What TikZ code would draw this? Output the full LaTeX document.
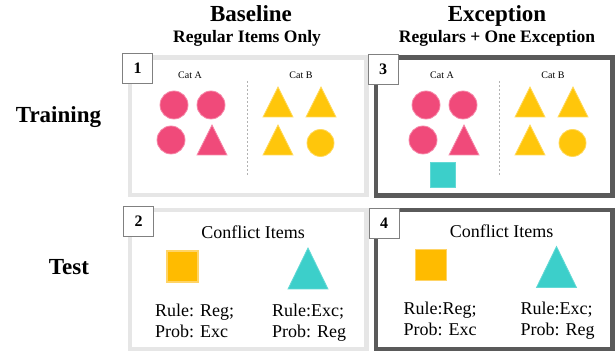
\documentclass[tikz,border=0pt]{standalone}
\usepackage{fontspec}
\setmainfont{Liberation Serif}

\definecolor{pinkA}{HTML}{F04A7A}
\definecolor{pinkE}{HTML}{F68AAA}
\definecolor{yelA}{HTML}{FFC60B}
\definecolor{yelE}{HTML}{FFD95C}
\definecolor{cyanA}{HTML}{3CCFCA}
\definecolor{orgA}{HTML}{FFBB00}
\definecolor{orgE}{HTML}{FFD466}
\definecolor{lightframe}{HTML}{E6E6E6}
\definecolor{darkframe}{HTML}{5A5A5A}

\begin{document}
\begin{tikzpicture}[x=1pt,y=-1pt,
  frameA/.style={draw=lightframe,line width=4.5pt},
  frameB/.style={draw=darkframe,line width=4.5pt},
  numbox/.style={draw=gray,fill=white,line width=0.8pt,minimum size=30pt,inner sep=0pt,font=\fontsize{16}{16}\selectfont\bfseries},
  pinkdot/.style={fill=pinkA,draw=pinkE,line width=0.8pt},
  yeldot/.style={fill=yelA,draw=yelE,line width=0.8pt},
  cyandot/.style={fill=cyanA,draw=cyanA!80!white,line width=0.8pt},
  orgdot/.style={fill=orgA,draw=orgE,line width=1.5pt},
  catlab/.style={anchor=base,inner sep=0pt,font=\fontsize{10}{12}\selectfont},
  itemlab/.style={anchor=base west,inner sep=0pt,font=\fontsize{18}{21}\selectfont},
  head/.style={anchor=base,inner sep=0pt,font=\fontsize{23}{25}\selectfont\bfseries},
  subhead/.style={anchor=base,inner sep=0pt,font=\fontsize{17.5}{20}\selectfont\bfseries},
  rowlab/.style={anchor=base,inner sep=0pt,font=\fontsize{23}{25}\selectfont\bfseries}]
\useasboundingbox (0,0) rectangle (616,352);

% column heads and row names
\node[head] (basehead) at (251,22) {Baseline};
\node[subhead] (basesub) at (247,43) {Regular Items Only};
\node[head] (exchead) at (497,22) {Exception};
\node[subhead] (excsub) at (497,43) {Regulars + One Exception};
\node[rowlab] (train) at (58.5,123) {Training};
\node[rowlab] (test) at (69,275) {Test};

% frames
\draw[frameA] (130,57.5) rectangle (366.5,195);
\draw[frameB] (376,57.5) rectangle (612.5,195.5);
\draw[frameA] (130,210) rectangle (366.5,349);
\draw[frameB] (376,210) rectangle (612.5,349);

% training panels
\foreach \dx/\p in {0/1,252/3} {
  \node[catlab] (catA\p) at (\dx+190,79) {Cat A};
  \node[catlab] (catB\p) at (\dx+301,79) {Cat B};
  \draw[gray!60,line width=0.6pt,dash pattern=on 2pt off 2pt] (\dx+247,81) -- (\dx+247,176);
  \foreach \x/\y in {174/105,211/105,171/140}
    \filldraw[pinkdot] (\dx+\x,\y) circle (14pt);
  \filldraw[pinkdot] (\dx+197,155) -- (\dx+212,125) -- (\dx+227,155) -- cycle;
  \foreach \x/\y in {278/102,321/102,278/140}
    \filldraw[yeldot] (\x+\dx-15,\y+15) -- (\x+\dx,\y-15) -- (\x+\dx+15,\y+15) -- cycle;
  \filldraw[yeldot] (\dx+320.5,143) circle (13.5pt);
}
\filldraw[cyandot] (430,162.5) rectangle (455,187.5);

% test panels
\foreach \dx/\dy/\rl/\p in {0/0/{Rule: Reg;}/2,248.5/-1.5/{Rule:Reg;}/4} {
  \node[anchor=base,inner sep=0pt,font=\fontsize{18}{21}\selectfont] (conf\p) at (\dx+253,\dy+239) {Conflict Items};
  \filldraw[orgdot] (\dx+167,\dy+251) rectangle (\dx+198,\dy+282);
  \filldraw[cyandot] (\dx+288,\dy+289) -- (\dx+308,\dy+248) -- (\dx+328,\dy+289) -- cycle;
  \node[itemlab] (rulel\p) at (\dx+155,\dy+316.5) {\rl};
  \node[itemlab] (probl\p) at (\dx+155,\dy+337.5) {Prob: Exc};
  \node[itemlab] (ruler\p) at (\dx+272,\dy+316.5) {Rule:Exc;};
  \node[itemlab] (probr\p) at (\dx+272,\dy+337.5) {Prob: Reg};
}

% panel numbers
\node[numbox] (n1) at (137.5,68) {1};
\node[numbox] (n2) at (138.5,221.5) {2};
\node[numbox] (n3) at (383,69.5) {3};
\node[numbox] (n4) at (384,223.5) {4};
\end{tikzpicture}
\end{document}
